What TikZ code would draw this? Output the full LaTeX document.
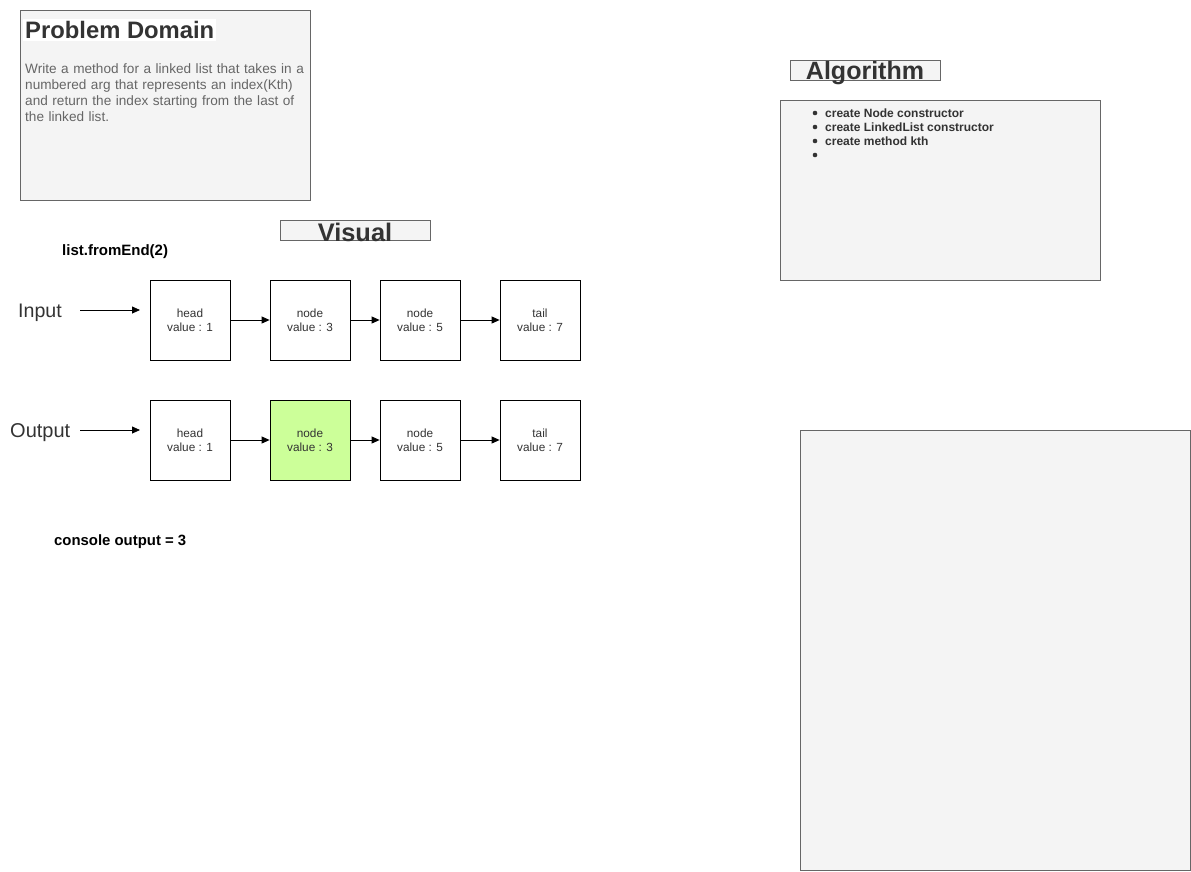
\documentclass[tikz,border=0pt]{standalone}
\usepackage{fontspec}
\setmainfont{Liberation Sans}
\usetikzlibrary{arrows.meta}
\definecolor{panel}{HTML}{F4F4F4}
\definecolor{edge}{HTML}{666666}
\definecolor{ink}{HTML}{333333}
\definecolor{bodygray}{HTML}{666666}
\definecolor{hl}{HTML}{CCFF99}
\tikzset{
  panelbox/.style={draw=edge, fill=panel, line width=0.8pt},
  listnode/.style={draw=black, fill=white, line width=0.8pt, minimum width=80pt, minimum height=80pt, inner sep=0pt, align=center, font=\fontsize{11.8}{14}\selectfont, text=ink},
  conn/.style={-{Triangle[length=8pt,width=7pt]}, line width=0.8pt},
  titlebox/.style={draw=edge, fill=panel, line width=0.8pt, minimum width=150pt, minimum height=20pt, inner sep=0pt},
}
\begin{document}
\begin{tikzpicture}[x=1pt,y=-1pt]
\useasboundingbox (0,0) rectangle (1191,871);
% Problem domain
\draw[panelbox] (20,10) rectangle (310,200);
\node[fill=white, anchor=west, inner sep=2pt, text=ink, font=\fontsize{23.8}{27}\selectfont\bfseries] (pdtitle) at (23,30) {Problem Domain};
\node[anchor=north west, inner sep=0pt, text width=290pt, text=bodygray, font=\fontsize{13.6}{16}\selectfont, align=left] (pdtext) at (25,63) {Write a method for a linked list that takes in a numbered arg that represents an index(Kth) and return the index starting from the last of the linked list.};
% Visual title
\node[titlebox] (vis) at (355,230) {};
\node[text=ink, font=\fontsize{25.4}{29}\selectfont\bfseries, inner sep=0pt] (vistext) at (355,232) {Visual};
% Algorithm
\node[titlebox] (alg) at (865,70) {};
\node[text=ink, font=\fontsize{25}{29}\selectfont\bfseries, inner sep=0pt] (algtext) at (865,73) {Algorithm};
\draw[panelbox] (780,100) rectangle (1100,280);
\foreach \y/\t [count=\i] in {113/create Node constructor,127/create LinkedList constructor,141/create method kth,155/{}} {
  \fill[ink] (815,\y) circle (2.3pt);
  \node[anchor=west, inner sep=0pt, text=ink, font=\fontsize{12}{14}\selectfont\bfseries] (alg\i) at (825,\y) {\t};
}
% big panel
\draw[panelbox] (800,430) rectangle (1190,870);
% list.fromEnd
\node[anchor=west, inner sep=0pt, font=\fontsize{15}{18}\selectfont\bfseries] (call) at (62,252) {list.fromEnd(2)};
% Input row
\node[anchor=west, inner sep=0pt, text=ink, font=\fontsize{19.6}{23}\selectfont] (in) at (18,313) {Input};
\coordinate (ins) at (80,310);
\node[listnode] (i1) at (190,320) {head\\value : 1};
\node[listnode] (i2) at (310,320) {node\\value : 3};
\node[listnode] (i3) at (420,320) {node\\value : 5};
\node[listnode] (i4) at (540,320) {tail\\value : 7};
\draw[conn] (ins) -- (140,310) coordinate (ine);
\draw[conn] (i1) -- (i2);
\draw[conn] (i2) -- (i3);
\draw[conn] (i3) -- (i4);
% Output row
\node[anchor=west, inner sep=0pt, text=ink, font=\fontsize{20}{23}\selectfont] (out) at (10,433) {Output};
\coordinate (outs) at (80,430);
\node[listnode] (o1) at (190,440) {head\\value : 1};
\node[listnode, fill=hl] (o2) at (310,440) {node\\value : 3};
\node[listnode] (o3) at (420,440) {node\\value : 5};
\node[listnode] (o4) at (540,440) {tail\\value : 7};
\draw[conn] (outs) -- (140,430) coordinate (oute);
\draw[conn] (o1) -- (o2);
\draw[conn] (o2) -- (o3);
\draw[conn] (o3) -- (o4);
% console output
\node[anchor=west, inner sep=0pt, font=\fontsize{14.9}{18}\selectfont\bfseries] (cons) at (54,542) {console output = 3};
\end{tikzpicture}
\end{document}
